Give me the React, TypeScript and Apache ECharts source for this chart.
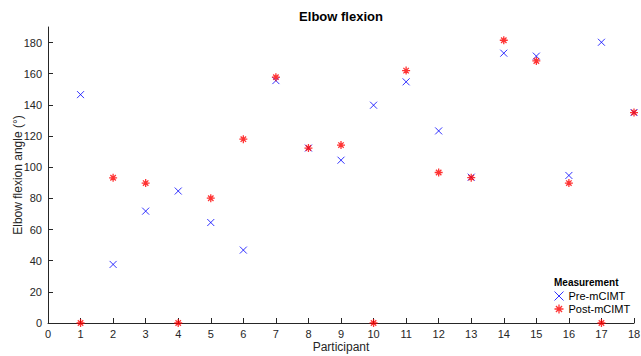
import React, { useEffect, useRef } from "react";
import * as echarts from "echarts";

const participants = [1, 2, 3, 4, 5, 6, 7, 8, 9, 10, 11, 12, 13, 14, 15, 16, 17, 18];
const preMCIMT = [146.6, 37.6, 71.8, 84.7, 64.5, 46.8, 155.6, 112.3, 104.5, 139.8, 154.8, 123.3, 93.6, 173.2, 171.3, 94.7, 180.2, 135.1];
const postMCIMT = [0, 93.2, 89.8, 0, 80.1, 118, 157.8, 112.3, 114.2, 0, 162, 96.6, 93.3, 181.5, 168.2, 89.8, 0, 135.1];
const yTicks = [0, 20, 40, 60, 80, 100, 120, 140, 160, 180];

const X_PATH = "path://M0,0L10,10M10,0L0,10";
const STAR_PATH = "path://M5,0L5,10M0,5L10,5M1.6,1.6L8.4,8.4M8.4,1.6L1.6,8.4";
const FONT = "Liberation Sans, Arial, Helvetica, sans-serif";
const AX = "#262626";

export default function App() {
  const ref = useRef<HTMLDivElement>(null);
  useEffect(() => {
    if (!ref.current) return;
    const chart = echarts.init(ref.current, undefined, { renderer: "svg" });
    const preStyle = { color: "none", borderColor: "#0000ff", borderWidth: 1 };
    const postStyle = { color: "none", borderColor: "#ff0000", borderWidth: 1.3 };
    chart.setOption({
      animation: false,
      backgroundColor: "#ffffff",
      textStyle: { fontFamily: FONT },
      title: [
        {
          text: "Elbow flexion",
          left: 341,
          top: 10,
          padding: 0,
          textAlign: "center",
          textStyle: { fontSize: 13, fontWeight: "bold", color: "#000", fontFamily: FONT },
        },
        {
          text: "Measurement",
          left: 554,
          top: 277,
          padding: 0,
          textStyle: { fontSize: 10, fontWeight: "bold", color: "#000", fontFamily: FONT },
        },
      ],
      legend: {
        orient: "vertical",
        left: 552,
        top: 289,
        padding: 0,
        itemWidth: 9,
        itemHeight: 9,
        itemGap: -1,
        textStyle: { fontSize: 11, lineHeight: 11, color: "#000", fontFamily: FONT },
        data: [
          { name: "Pre-mCIMT", icon: X_PATH, itemStyle: preStyle },
          { name: "Post-mCIMT", icon: STAR_PATH, itemStyle: postStyle },
        ],
      },
      grid: { left: 48, right: 7, top: 27, bottom: 33, containLabel: false, outerBoundsMode: "none" },
      xAxis: {
        type: "value",
        min: 0,
        max: 18,
        interval: 1,
        name: "Participant",
        nameLocation: "middle",
        nameGap: 18,
        nameMoveOverlap: false,
        nameTextStyle: { fontSize: 12, color: AX, fontFamily: FONT },
        axisLine: { lineStyle: { color: AX, width: 1 } },
        axisTick: { inside: true, length: 5, lineStyle: { color: AX } },
        axisLabel: { fontSize: 11, color: AX, margin: 5, fontFamily: FONT },
        splitLine: { show: false },
      },
      yAxis: {
        type: "value",
        min: 0,
        max: 190,
        interval: 20,
        name: "Elbow flexion angle (°)",
        nameLocation: "middle",
        nameGap: 24,
        nameMoveOverlap: false,
        nameTextStyle: { fontSize: 12, color: AX, fontFamily: FONT },
        axisLine: { show: true, lineStyle: { color: AX, width: 1 } },
        axisTick: { show: true, inside: true, length: 5, lineStyle: { color: AX }, customValues: yTicks },
        axisLabel: { fontSize: 11, color: AX, margin: 6, fontFamily: FONT, customValues: yTicks },
        splitLine: { show: false },
      },
      series: [
        {
          name: "Pre-mCIMT",
          type: "scatter",
          clip: false,
          symbol: X_PATH,
          symbolSize: 7,
          itemStyle: preStyle,
          data: participants.map((p, i) => [p, preMCIMT[i]]),
          z: 2,
        },
        {
          name: "Post-mCIMT",
          type: "scatter",
          clip: false,
          symbol: STAR_PATH,
          symbolSize: 8,
          itemStyle: postStyle,
          data: participants.map((p, i) => [p, postMCIMT[i]]),
          z: 3,
        },
      ],
    });
    return () => chart.dispose();
  }, []);
  return (
    <div
      ref={ref}
      style={{ position: "fixed", left: 0, top: 0, width: 641, height: 356, background: "#fff" }}
    />
  );
}
